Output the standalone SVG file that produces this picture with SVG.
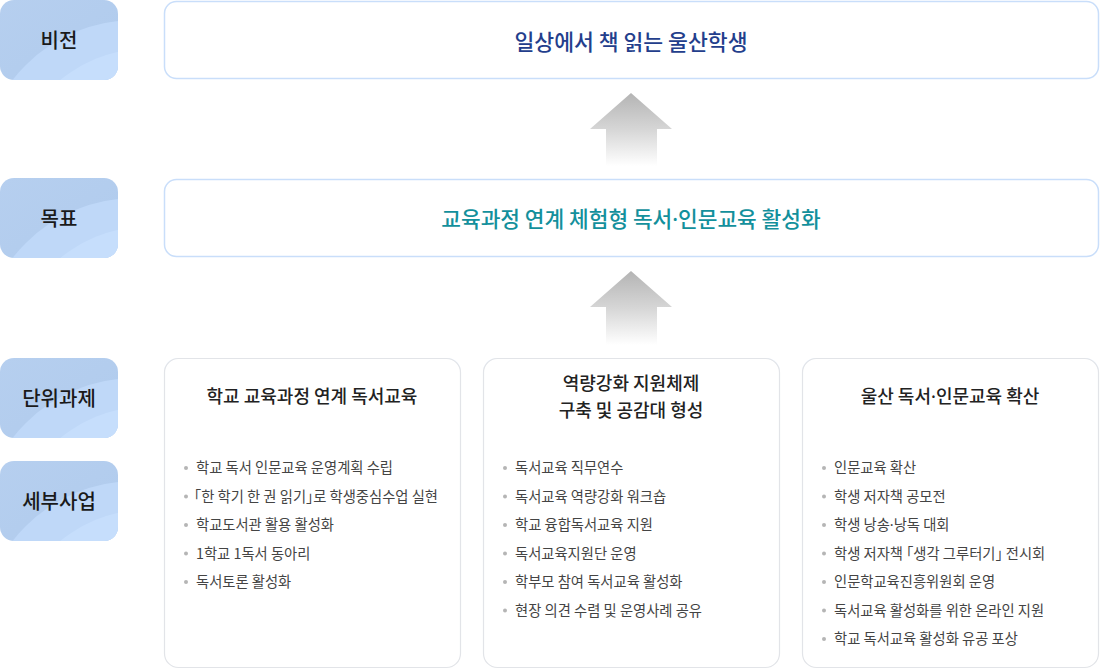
<svg xmlns="http://www.w3.org/2000/svg" width="1100" height="669" viewBox="0 0 1100 669">
<style>
text{font-family:"Noto Sans CJK KR","Noto Sans",sans-serif}
.md{font-family:"Noto Sans","DejaVu Sans",sans-serif}
.lbl{font-size:20px;font-weight:500;fill:#1a1a1a;text-anchor:middle}
.main{fill:#fff;stroke:#c9defa;stroke-width:1.5}
.col{fill:#fff;stroke:#e2e4e8;stroke-width:1.2}
.hdr{font-size:18px;font-weight:500;fill:#222;text-anchor:middle}
.itm{font-size:14.3px;fill:#444}
.dot{fill:#b5b5b5}
.a1{fill:#bfd8f8}
.a2{fill:#c6defc}
</style>
<defs>
<linearGradient id="lg" x1="0" y1="0" x2="1" y2="1">
<stop offset="0" stop-color="#b6cfef"/><stop offset="1" stop-color="#b0cbed"/>
</linearGradient>
<linearGradient id="ag" x1="0" y1="0" x2="0" y2="1">
<stop offset="0" stop-color="#b4b4b4"/><stop offset="0.5" stop-color="#d6d6d6"/><stop offset="1" stop-color="#ffffff"/>
</linearGradient>
<clipPath id="c1"><rect x="0" y="0" width="118" height="80" rx="14"/></clipPath>
<clipPath id="c2"><rect x="0" y="178" width="118" height="80" rx="14"/></clipPath>
<clipPath id="c3"><rect x="0" y="358" width="118" height="80" rx="14"/></clipPath>
<clipPath id="c4"><rect x="0" y="461" width="118" height="80" rx="14"/></clipPath>
<clipPath id="hc1"><rect x="164" y="358" width="297" height="310" rx="14"/></clipPath>
<clipPath id="hc2"><rect x="483" y="358" width="297" height="310" rx="14"/></clipPath>
<clipPath id="hc3"><rect x="802" y="358" width="297" height="310" rx="14"/></clipPath>
</defs>

<g id="label-vision" clip-path="url(#c1)">
<rect x="0" y="0" width="118" height="80" fill="url(#lg)"/>
<circle class="a1" cx="135" cy="175" r="155"/>
<circle class="a2" cx="150" cy="190" r="142"/>
<text class="lbl" x="59" y="48">비전</text>
</g>
<g id="label-goal" clip-path="url(#c2)">
<rect x="0" y="178" width="118" height="80" fill="url(#lg)"/>
<circle class="a1" cx="135" cy="353" r="155"/>
<circle class="a2" cx="150" cy="368" r="142"/>
<text class="lbl" x="59" y="226">목표</text>
</g>
<g id="label-task" clip-path="url(#c3)">
<rect x="0" y="358" width="118" height="80" fill="url(#lg)"/>
<circle class="a1" cx="135" cy="533" r="155"/>
<circle class="a2" cx="150" cy="548" r="142"/>
<text class="lbl" x="59" y="406">단위과제</text>
</g>
<g id="label-project" clip-path="url(#c4)">
<rect x="0" y="461" width="118" height="80" fill="url(#lg)"/>
<circle class="a1" cx="135" cy="636" r="155"/>
<circle class="a2" cx="150" cy="651" r="142"/>
<text class="lbl" x="59" y="509">세부사업</text>
</g>

<g id="vision">
<rect class="main" x="164.5" y="1.5" width="934" height="77" rx="12"/>
<text x="631" y="49.5" font-size="21.6" font-weight="500" fill="#233e8c" text-anchor="middle">일상에서 책 읽는 울산학생</text>
</g>
<g id="goal">
<rect class="main" x="164.5" y="179.5" width="934" height="77" rx="12"/>
<text x="631" y="226.5" font-size="21.4" font-weight="500" fill="#13909c" text-anchor="middle">교육과정 연계 체험형 독서<tspan class="md">·</tspan>인문교육 활성화</text>
</g>

<g id="connectors">
<polygon points="631,93 672,129 657,129 657,166 606,166 606,129 590,129" fill="url(#ag)"/>
<polygon points="631,271 672,307 657,307 657,345 606,345 606,307 590,307" fill="url(#ag)"/>
</g>

<g id="task1">
<g clip-path="url(#hc1)"><rect x="164" y="358" width="297" height="79" fill="#ebf4fe"/></g>
<rect class="col" x="164.5" y="358.5" width="296" height="309" rx="14" fill="none"/>
<text class="hdr" x="312" y="402.5">학교 교육과정 연계 독서교육</text>
<circle class="dot" cx="186" cy="468" r="2"/><text class="itm" x="196" y="473">학교 독서 인문교육 운영계획 수립</text>
<circle class="dot" cx="186" cy="496.5" r="2"/><text class="itm" x="194" y="501.5">｢한 학기 한 권 읽기｣로 학생중심수업 실현</text>
<circle class="dot" cx="186" cy="525" r="2"/><text class="itm" x="196" y="530">학교도서관 활용 활성화</text>
<circle class="dot" cx="186" cy="553.5" r="2"/><text class="itm" x="196" y="558.5">1학교 1독서 동아리</text>
<circle class="dot" cx="186" cy="582" r="2"/><text class="itm" x="196" y="587">독서토론 활성화</text>
</g>

<g id="task2">
<g clip-path="url(#hc2)"><rect x="483" y="358" width="297" height="79" fill="#ebf4fe"/></g>
<rect class="col" x="483.5" y="358.5" width="296" height="309" rx="14" fill="none"/>
<text class="hdr" x="631" y="389.5">역량강화 지원체제</text>
<text class="hdr" x="631" y="416.5">구축 및 공감대 형성</text>
<circle class="dot" cx="505" cy="468" r="2"/><text class="itm" x="515" y="473">독서교육 직무연수</text>
<circle class="dot" cx="505" cy="496.5" r="2"/><text class="itm" x="515" y="501.5">독서교육 역량강화 워크숍</text>
<circle class="dot" cx="505" cy="525" r="2"/><text class="itm" x="515" y="530">학교 융합독서교육 지원</text>
<circle class="dot" cx="505" cy="553.5" r="2"/><text class="itm" x="515" y="558.5">독서교육지원단 운영</text>
<circle class="dot" cx="505" cy="582" r="2"/><text class="itm" x="515" y="587">학부모 참여 독서교육 활성화</text>
<circle class="dot" cx="505" cy="610.5" r="2"/><text class="itm" x="515" y="615.5">현장 의견 수렴 및 운영사례 공유</text>
</g>

<g id="task3">
<g clip-path="url(#hc3)"><rect x="802" y="358" width="297" height="79" fill="#ebf4fe"/></g>
<rect class="col" x="802.5" y="358.5" width="296" height="309" rx="14" fill="none"/>
<text class="hdr" x="950" y="402.5">울산 독서<tspan class="md">·</tspan>인문교육 확산</text>
<circle class="dot" cx="824" cy="468" r="2"/><text class="itm" x="834" y="473">인문교육 확산</text>
<circle class="dot" cx="824" cy="496.5" r="2"/><text class="itm" x="834" y="501.5">학생 저자책 공모전</text>
<circle class="dot" cx="824" cy="525" r="2"/><text class="itm" x="834" y="530">학생 낭송<tspan class="md">·</tspan>낭독 대회</text>
<circle class="dot" cx="824" cy="553.5" r="2"/><text class="itm" x="834" y="558.5">학생 저자책 ｢생각 그루터기｣ 전시회</text>
<circle class="dot" cx="824" cy="582" r="2"/><text class="itm" x="834" y="587">인문학교육진흥위원회 운영</text>
<circle class="dot" cx="824" cy="610.5" r="2"/><text class="itm" x="834" y="615.5">독서교육 활성화를 위한 온라인 지원</text>
<circle class="dot" cx="824" cy="639" r="2"/><text class="itm" x="834" y="644">학교 독서교육 활성화 유공 포상</text>
</g>
</svg>
